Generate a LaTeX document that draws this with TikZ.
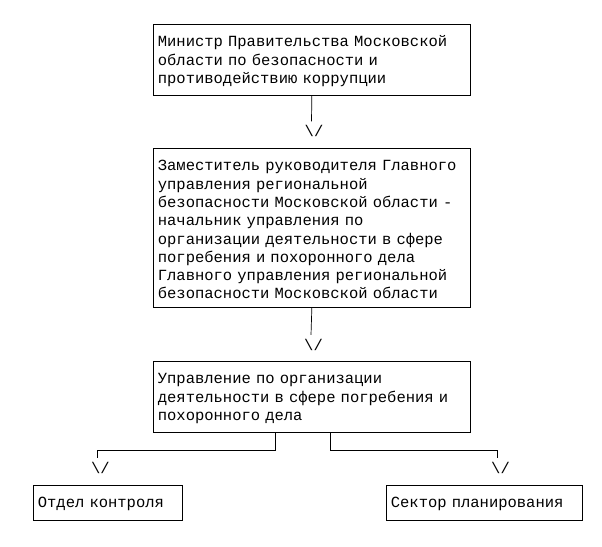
\documentclass[tikz,border=0pt]{standalone}
\usepackage{fontspec}
\newfontfamily\orgmono{Liberation Mono}
\usepackage{tikz}

\begin{document}
\begin{tikzpicture}[x=1pt,y=1pt,
  unit/.style={draw, rectangle, anchor=north west, inner xsep=4.5pt, inner ysep=0pt,
    text height=22.5pt, align=left, line width=0.7pt,
    font=\orgmono\fontsize{15.5}{18.3}\selectfont},
  tipmark/.style={inner sep=0pt, outer ysep=4pt, font=\orgmono\fontsize{15.5}{18.3}\selectfont},
  link/.style={line width=0.7pt}]
  \useasboundingbox (0,0) rectangle (602,546);

  \node[unit, text width=308pt, text depth=48.5pt] (minister) at (153,522)
    {Министр Правительства Московской\\области по безопасности и\\противодействию коррупции};
  \node[tipmark] (tip1) at (314,415) {\textbackslash/};

  \node[unit, text width=308pt, text depth=136.5pt] (deputy) at (153,398)
    {Заместитель руководителя Главного\\управления региональной\\безопасности Московской области -\\начальник управления по\\организации деятельности в сфере\\погребения и похоронного дела\\Главного управления региональной\\безопасности Московской области};
  \node[tipmark] (tip2) at (313.5,201.5) {\textbackslash/};

  \node[unit, text width=308pt, text depth=48.5pt] (department) at (153,185)
    {Управление по организации\\деятельности в сфере погребения и\\похоронного дела};
  \node[tipmark] (tip3) at (100.5,78) {\textbackslash/};
  \node[tipmark] (tip4) at (500.5,78) {\textbackslash/};

  \node[unit, text width=140pt, text depth=12.5pt] (control) at (33,61) {Отдел контроля};
  \node[unit, text width=187pt, text depth=12.5pt] (planning) at (386,61) {Сектор планирования};

  \draw[link] (minister.south) -- ([xshift=-2.5pt]tip1.north);
  \draw[link] (deputy.south) -- ([xshift=-2.5pt]tip2.north);
  \draw[link] ([xshift=-36.5pt]department.south) -- ++(0,-18) -| ([xshift=-3pt]tip3.north);
  \draw[link] ([xshift=18.5pt]department.south) -- ++(0,-18) -| ([xshift=-3pt]tip4.north);
\end{tikzpicture}
\end{document}
